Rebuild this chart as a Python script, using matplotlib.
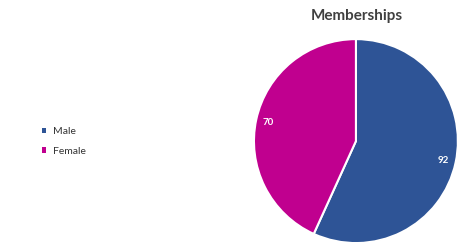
import matplotlib.pyplot as plt
from matplotlib.patches import Patch

categories = ["Male", "Female"]
values = [92, 70]
colors = ["#2E5496", "#C0008F"]

plt.rcParams['font.family'] = ['Lato', 'DejaVu Sans']

fig = plt.figure(figsize=(4.6, 2.46), dpi=100)
ax = fig.add_axes([0.552, 0.012, 0.4435, 0.829])

wedges, texts = ax.pie(values, colors=colors, startangle=90, counterclock=False,
                       labels=[str(v) for v in values], labeldistance=0.88,
                       wedgeprops=dict(edgecolor="white", linewidth=1.5))
for t in texts:
    t.set_color("white")
    t.set_fontsize(7)
    t.set_fontweight("bold")
    t.set_ha("center")
ax.set_xlim(-1.0, 1.0)
ax.set_ylim(-1.0, 1.0)
ax.set_aspect("equal")

fig.text(0.776, 0.935, "Memberships", ha="center", va="center",
         fontsize=11, fontweight="bold", color="#404040")

handles = [Patch(facecolor=c, edgecolor="none") for c in colors]
leg = fig.legend(handles, categories, loc="center left", bbox_to_anchor=(0.07, 0.425),
                 frameon=False, fontsize=7.5, handlelength=0.45, handleheight=0.45,
                 handletextpad=0.6, labelspacing=1.0)
for t in leg.get_texts():
    t.set_color("#333333")

fig.savefig("out.png", dpi=100)
